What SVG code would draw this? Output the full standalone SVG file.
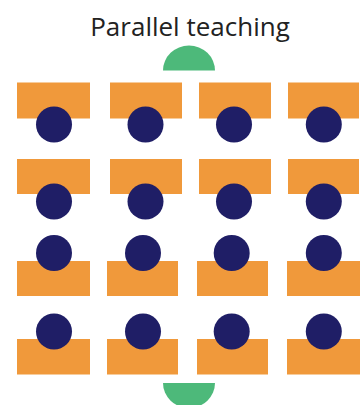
<svg xmlns="http://www.w3.org/2000/svg" width="363" height="405" viewBox="0 0 363 405">
<style>
.desk{fill:#F0993B}
.stu{fill:#1F1E66}
.tch{fill:#4DB97A}
.title{font-family:"Open Sans","Noto Sans","Liberation Sans",sans-serif;font-size:26px;fill:#222222}
</style>
<rect width="363" height="405" fill="#ffffff"/>
<text class="title" x="190" y="36" text-anchor="middle">Parallel teaching</text>
<g id="teacher-top"><path class="tch" d="M163,70.5 A26,25 0 0 1 215,70.5 Z"/></g>
<g id="teacher-bottom"><path class="tch" d="M163,383 A26,25 0 0 0 215,383 Z"/></g>
<g id="row1">
<rect class="desk" x="17" y="82.5" width="73" height="36"/>
<rect class="desk" x="110" y="82.5" width="72" height="36"/>
<rect class="desk" x="199" y="82.5" width="72" height="36"/>
<rect class="desk" x="288" y="82.5" width="71" height="36"/>
<circle class="stu" cx="54" cy="124.5" r="18"/>
<circle class="stu" cx="145.5" cy="124.5" r="18"/>
<circle class="stu" cx="234" cy="124.5" r="18"/>
<circle class="stu" cx="323.8" cy="124.5" r="18"/>
</g>
<g id="row2">
<rect class="desk" x="17" y="159" width="73" height="35"/>
<rect class="desk" x="110" y="159" width="72" height="35"/>
<rect class="desk" x="199" y="159" width="72" height="35"/>
<rect class="desk" x="288" y="159" width="71" height="35"/>
<circle class="stu" cx="54" cy="201.5" r="18"/>
<circle class="stu" cx="145.5" cy="201.5" r="18"/>
<circle class="stu" cx="234" cy="201.5" r="18"/>
<circle class="stu" cx="323.8" cy="201.5" r="18"/>
</g>
<g id="row3">
<rect class="desk" x="17" y="261" width="73" height="35"/>
<rect class="desk" x="107" y="261" width="71" height="35"/>
<rect class="desk" x="197" y="261" width="71" height="35"/>
<rect class="desk" x="287" y="261" width="73" height="35"/>
<circle class="stu" cx="54" cy="253" r="18"/>
<circle class="stu" cx="143" cy="253" r="18"/>
<circle class="stu" cx="231.7" cy="253" r="18"/>
<circle class="stu" cx="323.8" cy="253" r="18"/>
</g>
<g id="row4">
<rect class="desk" x="17" y="339" width="73" height="35.5"/>
<rect class="desk" x="107" y="339" width="71" height="35.5"/>
<rect class="desk" x="197" y="339" width="71" height="35.5"/>
<rect class="desk" x="287" y="339" width="73" height="35.5"/>
<circle class="stu" cx="54" cy="331.5" r="18"/>
<circle class="stu" cx="143" cy="331.5" r="18"/>
<circle class="stu" cx="231.7" cy="331.5" r="18"/>
<circle class="stu" cx="323.8" cy="331.5" r="18"/>
</g>
<g id="connectors"/>
</svg>
